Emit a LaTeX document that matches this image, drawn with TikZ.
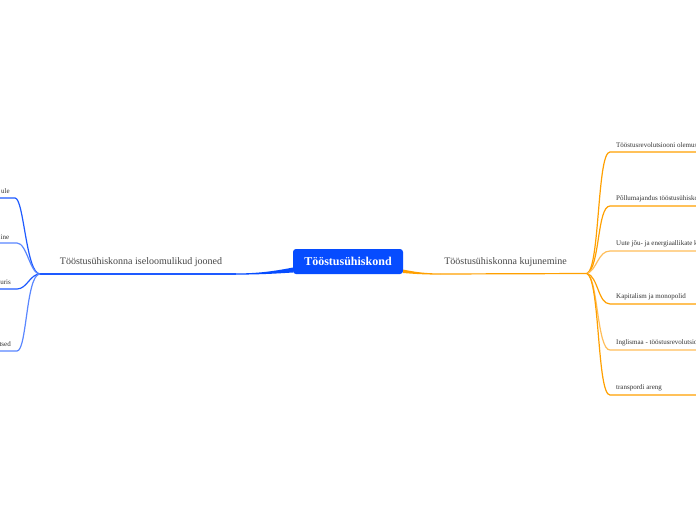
\documentclass[tikz,border=0pt]{standalone}
\usepackage{fontspec}
\setmainfont{Liberation Serif}
\definecolor{cblue}{RGB}{6,76,255}
\definecolor{bline}{RGB}{30,90,255}
\definecolor{bline2}{RGB}{90,135,255}
\definecolor{oline}{RGB}{255,160,0}
\definecolor{oline2}{RGB}{255,190,90}
\definecolor{labgray}{RGB}{70,70,70}
\tikzset{
  centerbox/.style={fill=cblue, rounded corners=3pt, minimum width=110pt, minimum height=25pt, text=white, inner sep=0pt, font=\bfseries\fontsize{12}{14}\selectfont},
  mainlabel/.style={text=labgray, inner sep=0pt, font=\fontsize{10}{12}\selectfont},
  childlabel/.style={text=black!80, inner sep=0pt, font=\fontsize{7}{8}\selectfont},
  bconn/.style={draw=bline, line width=1.2pt},
  bconn2/.style={draw=bline2, line width=1.2pt},
  oconn/.style={draw=oline, line width=1.2pt},
  oconn2/.style={draw=oline2, line width=1.2pt},
}
\begin{document}
\begin{tikzpicture}[x=1pt,y=-1pt]
\useasboundingbox (0,0) rectangle (696,520);
\clip (0,0) rectangle (696,520);
\fill[white] (0,0) rectangle (696,520);

% center
\node[centerbox] (c) at (348,261.5) {Tööstusühiskond};

% ---------- left branch ----------
\coordinate (cL) at (293,270);
\coordinate (Lend) at (236,274);
\coordinate (Lj) at (40,274);
\fill[cblue] (293,267.5) .. controls (270,272) and (255,273.4) .. (236,273.4)
  -- (236,274.6) .. controls (255,274.6) and (270,274) .. (293,272.5) -- cycle;
\draw[bconn] (Lend) -- (Lj);
\node[mainlabel] (L) at (141,262) {Tööstusühiskonna iseloomulikud jooned};

\coordinate (l1) at (0,198);
\coordinate (l2) at (0,243);
\coordinate (l3) at (0,289);
\coordinate (l4) at (0,351);
\node[childlabel, anchor=east] (t1) at (10,191) {ule};
\node[childlabel, anchor=east] (t2) at (9.5,237) {ine};
\node[childlabel, anchor=east] (t3) at (11,282) {uris};
\node[childlabel, anchor=east] (t4) at (11,344) {tsed};
\draw[bconn] (l1) -- (15,198) .. controls (24,198) and (26,274) .. (Lj);
\draw[bconn2] (l2) -- (17,243) .. controls (27,243) and (30,274) .. (Lj);
\draw[bconn] (l3) -- (17,289) .. controls (27,289) and (30,274) .. (Lj);
\draw[bconn2] (l4) -- (17,351) .. controls (27,351) and (26,274) .. (Lj);

% ---------- right branch ----------
\coordinate (Rend) at (440,274);
\coordinate (Rj) at (587,273.5);
\fill[oline] (403,269.5) .. controls (415,272) and (425,273.4) .. (440,273.4)
  -- (440,274.6) .. controls (425,274.6) and (415,274) .. (403,273) -- cycle;
\draw[oconn] (Rend) -- (Rj);
\node[mainlabel] (R) at (505.5,262) {Tööstusühiskonna kujunemine};

\node[childlabel, anchor=west] (r1) at (616,145) {Tööstusrevolutsiooni olemus};
\node[childlabel, anchor=west] (r2) at (616,198.5) {Põllumajandus tööstusühiskonnas};
\node[childlabel, anchor=west] (r3) at (616,243.5) {Uute jõu- ja energiaallikate kasutuselevõtt};
\node[childlabel, anchor=west] (r4) at (616,297) {Kapitalism ja monopolid};
\node[childlabel, anchor=west] (r5) at (616,343) {Inglismaa - tööstusrevolutsiooni häll};
\node[childlabel, anchor=west] (r6) at (616,388) {transpordi areng};
\draw[oconn] (Rj) .. controls (600,268) and (597,152) .. (610,152) -- (696,152);
\draw[oconn] (Rj) .. controls (600,268) and (597,206) .. (610,206) -- (696,206);
\draw[oconn2] (Rj) .. controls (597,270) and (598,251) .. (610,251) -- (696,251);
\draw[oconn] (Rj) .. controls (598,276) and (598,304) .. (610,304) -- (696,304);
\draw[oconn2] (Rj) .. controls (598,278) and (597,350) .. (610,350) -- (696,350);
\draw[oconn] (Rj) .. controls (600,280) and (597,395) .. (610,395) -- (696,395);
\end{tikzpicture}
\end{document}
